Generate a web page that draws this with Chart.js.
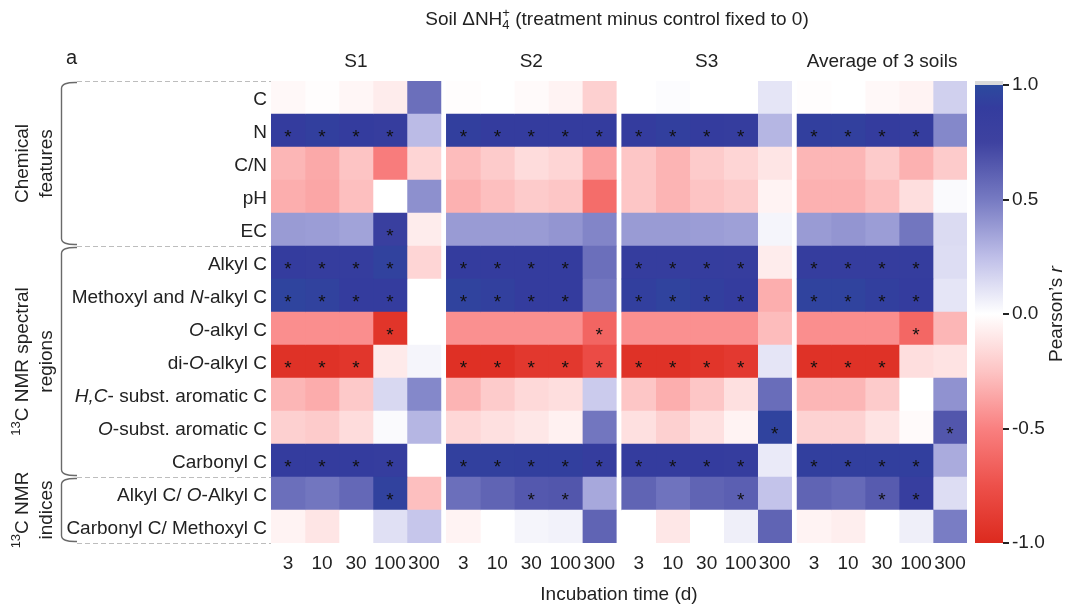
<!DOCTYPE html>
<html>
<head>
<meta charset="utf-8">
<title>Soil ΔNH4+ correlation heatmap</title>
<script src="https://cdn.jsdelivr.net/npm/chart.js@4.4.0/dist/chart.umd.min.js"></script>
<style>
  html, body { margin: 0; padding: 0; background: #fff; }
  #wrap { position: relative; width: 1065px; height: 609px; }
  #wrap canvas { position: absolute; left: 0; top: 0; }
</style>
</head>
<body>
<div id="wrap">
  <canvas id="heat" width="1065" height="609"></canvas>
  <canvas id="scale" width="1065" height="609"></canvas>
</div>
<script>
(function () {
    'use strict';

    // _x_ = italic, ^x^ = superscript, ~x~ = subscript
    const rowLabels = [
        'C', 'N', 'C/N', 'pH', 'EC',
        'Alkyl C', 'Methoxyl and _N_-alkyl C', '_O_-alkyl C', 'di-_O_-alkyl C',
        '_H,C_- subst. aromatic C', '_O_-subst. aromatic C', 'Carbonyl C',
        'Alkyl C/ _O_-Alkyl C', 'Carbonyl C/ Methoxyl C'
    ];
    const timeLabels = ['3', '10', '30', '100', '300'];
    const panelTitles = ['S1', 'S2', 'S3', 'Average of 3 soils'];

    // Pearson's r, one row per variable, one column per incubation time
    const s1Values = [
        [-0.03, -0.01, -0.04, -0.08, 0.55],
        [0.90, 0.92, 0.90, 0.87, 0.26],
        [-0.30, -0.35, -0.25, -0.52, -0.18],
        [-0.33, -0.36, -0.27, 0.00, 0.42],
        [0.38, 0.37, 0.35, 0.82, -0.08],
        [0.90, 0.88, 0.88, 0.94, -0.18],
        [0.96, 0.94, 0.90, 0.90, 0.00],
        [-0.45, -0.45, -0.45, -0.93, 0.00],
        [-0.95, -0.95, -0.92, -0.09, 0.04],
        [-0.30, -0.34, -0.23, 0.15, 0.45],
        [-0.20, -0.22, -0.15, 0.02, 0.28],
        [0.90, 0.90, 0.90, 0.88, 0.00],
        [0.55, 0.52, 0.58, 0.94, -0.27],
        [-0.05, -0.11, 0.00, 0.12, 0.22]
    ];
    const s2Values = [
        [-0.01, 0.00, -0.02, -0.05, -0.20],
        [0.92, 0.90, 0.90, 0.90, 0.90],
        [-0.28, -0.22, -0.15, -0.18, -0.38],
        [-0.32, -0.27, -0.22, -0.24, -0.60],
        [0.38, 0.38, 0.38, 0.40, 0.46],
        [0.90, 0.90, 0.90, 0.90, 0.55],
        [0.95, 0.93, 0.90, 0.90, 0.52],
        [-0.44, -0.44, -0.44, -0.44, -0.64],
        [-0.96, -0.96, -0.91, -0.91, -0.78],
        [-0.31, -0.22, -0.16, -0.14, 0.20],
        [-0.17, -0.13, -0.10, -0.06, 0.52],
        [0.93, 0.93, 0.92, 0.92, 0.88],
        [0.55, 0.60, 0.65, 0.66, 0.33],
        [-0.05, 0.00, 0.04, 0.05, 0.60]
    ];
    const s3Values = [
        [0.00, 0.01, 0.00, 0.00, 0.10],
        [0.90, 0.92, 0.90, 0.88, 0.28],
        [-0.24, -0.31, -0.22, -0.18, -0.11],
        [-0.24, -0.31, -0.25, -0.22, -0.05],
        [0.38, 0.38, 0.37, 0.36, 0.04],
        [0.88, 0.88, 0.88, 0.87, -0.08],
        [0.92, 0.95, 0.92, 0.90, -0.33],
        [-0.44, -0.44, -0.44, -0.44, -0.28],
        [-0.95, -0.95, -0.93, -0.90, 0.10],
        [-0.24, -0.33, -0.24, -0.13, 0.56],
        [-0.13, -0.20, -0.13, -0.05, 0.95],
        [0.90, 0.90, 0.90, 0.88, 0.08],
        [0.60, 0.53, 0.60, 0.62, 0.23],
        [0.00, -0.10, 0.00, 0.06, 0.60]
    ];
    const avgValues = [
        [-0.01, 0.00, -0.03, -0.05, 0.18],
        [0.92, 0.93, 0.90, 0.88, 0.45],
        [-0.30, -0.30, -0.22, -0.32, -0.22],
        [-0.32, -0.32, -0.27, -0.14, 0.02],
        [0.38, 0.40, 0.37, 0.52, 0.14],
        [0.88, 0.88, 0.88, 0.88, 0.13],
        [0.95, 0.95, 0.92, 0.90, 0.10],
        [-0.45, -0.45, -0.45, -0.63, -0.30],
        [-0.95, -0.95, -0.95, -0.14, -0.12],
        [-0.30, -0.30, -0.22, 0.00, 0.41],
        [-0.19, -0.19, -0.12, -0.02, 0.66],
        [0.92, 0.92, 0.92, 0.92, 0.32],
        [0.60, 0.57, 0.64, 0.85, 0.13],
        [-0.05, -0.07, 0.00, 0.06, 0.49]
    ];

    // significant correlations: column indices per row
    const s1Sig = [[], [0, 1, 2, 3], [], [], [3], [0, 1, 2, 3], [0, 1, 2, 3], [3], [0, 1, 2], [], [], [0, 1, 2, 3], [3], []];
    const s2Sig = [[], [0, 1, 2, 3, 4], [], [], [], [0, 1, 2, 3], [0, 1, 2, 3], [4], [0, 1, 2, 3, 4], [], [], [0, 1, 2, 3, 4], [2, 3], []];
    const s3Sig = [[], [0, 1, 2, 3], [], [], [], [0, 1, 2, 3], [0, 1, 2, 3], [], [0, 1, 2, 3], [], [4], [0, 1, 2, 3], [3], []];
    const avgSig = [[], [0, 1, 2, 3], [], [], [], [0, 1, 2, 3], [0, 1, 2, 3], [3], [0, 1, 2], [], [4], [0, 1, 2, 3], [2, 3], []];

    const rowGroups = [
        { lines: ['Chemical', 'features'], from: 0, to: 4 },
        { lines: ['^13^C NMR spectral', 'regions'], from: 5, to: 11 },
        { lines: ['^13^C NMR', 'indices'], from: 12, to: 13 }
    ];

    const panelValues = [s1Values, s2Values, s3Values, avgValues];
    const panelSig = [s1Sig, s2Sig, s3Sig, avgSig];

    const FONT = '"Liberation Sans", Arial, Helvetica, sans-serif';
    const INK = '#222';
    const FS = 19;
    const PANEL_GAP = 0.16;

    // diverging red - white - blue ramp
    const ramp = [
        [-1.00, [220, 42, 30]],
        [-0.75, [237, 80, 74]],
        [-0.50, [249, 128, 128]],
        [-0.25, [253, 196, 196]],
        [0.00, [255, 255, 255]],
        [0.25, [190, 190, 232]],
        [0.50, [118, 122, 194]],
        [0.75, [62, 66, 160]],
        [0.90, [52, 60, 158]],
        [1.00, [44, 74, 158]]
    ];

    function colorFor(v) {
        for (let i = 1; i < ramp.length; i++) {
            const [v1, c1] = ramp[i];
            if (v <= v1 || i === ramp.length - 1) {
                const [v0, c0] = ramp[i - 1];
                const t = Math.min(1, Math.max(0, (v - v0) / (v1 - v0)));
                const c = c0.map((a, k) => Math.round(a + (c1[k] - a) * t));
                return `rgb(${c[0]},${c[1]},${c[2]})`;
            }
        }
        return '#fff';
    }

    const panelStart = p => p * (timeLabels.length + PANEL_GAP);
    const xMax = panelStart(panelTitles.length) - PANEL_GAP;
    const tickCenters = [];
    panelTitles.forEach((_, p) => timeLabels.forEach((__, j) => tickCenters.push(panelStart(p) + j + 0.5)));

    // ---- rich text helpers (italic / super- / subscript runs) ----
    function parseRich(str) {
        const parts = [];
        let italic = false, sup = false, sub = false, buf = '';
        const flush = () => { if (buf) parts.push({ text: buf, italic, sup, sub }); buf = ''; };
        for (const ch of str) {
            if (ch === '_') { flush(); italic = !italic; }
            else if (ch === '^') { flush(); sup = !sup; }
            else if (ch === '~') { flush(); sub = !sub; }
            else buf += ch;
        }
        flush();
        return parts;
    }

    function richLayout(ctx, str, size) {
        const parts = parseRich(str);
        let cx = 0, lastSub = null;
        parts.forEach(p => {
            const s = (p.sup || p.sub) ? Math.round(size * 0.68) : size;
            p.font = `${p.italic ? 'italic ' : ''}${s}px ${FONT}`;
            ctx.font = p.font;
            p.w = ctx.measureText(p.text).width;
            p.dy = p.sup ? -size * 0.4 : (p.sub ? size * 0.22 : 0);
            if (p.sup && lastSub) {
                // stack a superscript right above the preceding subscript
                p.x = lastSub.x;
                cx = lastSub.x + Math.max(lastSub.w, p.w);
                lastSub = null;
            } else {
                p.x = cx;
                cx += p.w;
                lastSub = p.sub ? p : null;
            }
        });
        return { parts, width: cx };
    }

    function drawRich(ctx, str, x, y, size, align) {
        const { parts, width } = richLayout(ctx, str, size);
        const x0 = align === 'right' ? x - width : align === 'center' ? x - width / 2 : x;
        ctx.textAlign = 'left';
        ctx.textBaseline = 'alphabetic';
        parts.forEach(p => {
            ctx.font = p.font;
            ctx.fillText(p.text, x0 + p.x, y + p.dy);
        });
    }

    // ---- heatmap: one floating bar per cell ----
    const datasets = [];
    panelValues.forEach((vals, p) => {
        timeLabels.forEach((t, j) => {
            const x0 = panelStart(p) + j;
            datasets.push({
                label: `${panelTitles[p]} ${t} d`,
                data: vals.map(() => [x0, x0 + 1]),
                backgroundColor: vals.map(row => colorFor(row[j])),
                borderWidth: 0,
                barPercentage: 1,
                categoryPercentage: 1,
                grouped: false
            });
        });
    });

    const heatDecor = {
        id: 'heatDecor',
        afterDatasetsDraw(chart) {
            const { ctx, scales: { x, y } } = chart;
            ctx.save();
            ctx.fillStyle = '#111';
            ctx.font = `${FS}px ${FONT}`;
            ctx.textAlign = 'center';
            ctx.textBaseline = 'alphabetic';
            panelSig.forEach((sig, p) => sig.forEach((cols, r) => cols.forEach(j => {
                ctx.fillText('*', x.getPixelForValue(panelStart(p) + j + 0.5), y.getPixelForValue(r) + 12);
            })));
            ctx.restore();
        },
        afterDraw(chart) {
            const { ctx, chartArea, scales: { x, y } } = chart;
            const rowH = (chartArea.bottom - chartArea.top) / rowLabels.length;
            const edge = r => chartArea.top + r * rowH;
            ctx.save();
            ctx.fillStyle = INK;

            // row labels
            rowLabels.forEach((lab, r) => {
                drawRich(ctx, lab, chartArea.left - 4, y.getPixelForValue(r) + 7, FS, 'right');
            });

            // dashed separators between row groups
            ctx.strokeStyle = '#bdbdbd';
            ctx.lineWidth = 1.2;
            ctx.setLineDash([5, 3]);
            const cuts = rowGroups.map(g => g.from).concat(rowGroups[rowGroups.length - 1].to + 1);
            cuts.forEach(r => {
                const yy = Math.round(edge(r)) + 0.5;
                ctx.beginPath();
                ctx.moveTo(77, yy);
                ctx.lineTo(chartArea.left, yy);
                ctx.stroke();
            });
            ctx.setLineDash([]);

            // brackets and rotated group names
            ctx.strokeStyle = '#6a6a6a';
            ctx.lineWidth = 1.4;
            rowGroups.forEach(g => {
                const y0 = edge(g.from) + 1.5, y1 = edge(g.to + 1) - 1.5;
                const bx = 61.5, hx = 77;
                ctx.beginPath();
                ctx.moveTo(hx, y0);
                ctx.quadraticCurveTo(bx, y0 - 0.5, bx, y0 + 6);
                ctx.lineTo(bx, y1 - 6);
                ctx.quadraticCurveTo(bx, y1 + 0.5, hx, y1);
                ctx.stroke();

                const cy = (edge(g.from) + edge(g.to + 1)) / 2;
                g.lines.forEach((line, i) => {
                    ctx.save();
                    ctx.translate(28 + 24 * i, cy);
                    ctx.rotate(-Math.PI / 2);
                    drawRich(ctx, line, 0, 0, FS, 'center');
                    ctx.restore();
                });
            });

            // panel headers
            panelTitles.forEach((t, p) => {
                const cx = (x.getPixelForValue(panelStart(p)) + x.getPixelForValue(panelStart(p) + timeLabels.length)) / 2;
                drawRich(ctx, t, cx, 67, FS, 'center');
            });

            // figure title and panel letter
            drawRich(ctx, 'Soil ΔNH~4~^+^ (treatment minus control fixed to 0)', 617, 25, FS, 'center');
            drawRich(ctx, 'a', 66, 64, 20, 'left');
            ctx.restore();
        }
    };

    Chart.defaults.font.family = FONT;

    new Chart(document.getElementById('heat'), {
        type: 'bar',
        data: { labels: rowLabels, datasets },
        options: {
            indexAxis: 'y',
            responsive: false,
            animation: false,
            events: [],
            layout: { padding: { left: 271, right: 98, top: 81, bottom: 0 } },
            plugins: { legend: { display: false }, tooltip: { enabled: false } },
            scales: {
                y: { type: 'category', display: false },
                x: {
                    type: 'linear',
                    min: 0,
                    max: xMax,
                    grid: { display: false, drawTicks: false },
                    border: { display: false },
                    afterBuildTicks: scale => { scale.ticks = tickCenters.map(v => ({ value: v })); },
                    afterFit: scale => { scale.height = 66; },
                    ticks: {
                        autoSkip: false,
                        maxRotation: 0,
                        padding: 9,
                        color: INK,
                        font: { size: FS },
                        callback: (v, i) => timeLabels[i % timeLabels.length]
                    },
                    title: {
                        display: true,
                        text: 'Incubation time (d)',
                        color: INK,
                        font: { size: FS },
                        padding: { top: 0, bottom: 3 }
                    }
                }
            }
        },
        plugins: [heatDecor]
    });

    // ---- colour bar ----
    const scaleDecor = {
        id: 'scaleDecor',
        afterDraw(chart) {
            const { ctx, chartArea } = chart;
            ctx.save();
            ctx.fillStyle = '#dadada';
            ctx.fillRect(chartArea.left, chartArea.top - 4, chartArea.right - chartArea.left, 4);
            ctx.fillStyle = INK;
            ctx.translate(1062, (chartArea.top + chartArea.bottom) / 2);
            ctx.rotate(-Math.PI / 2);
            drawRich(ctx, 'Pearson’s _r_', 0, 0, FS, 'center');
            ctx.restore();
        }
    };

    new Chart(document.getElementById('scale'), {
        type: 'bar',
        data: {
            labels: ['r'],
            datasets: [{
                data: [[-1, 1]],
                barPercentage: 1,
                categoryPercentage: 1,
                borderWidth: 0,
                backgroundColor: c => {
                    const { chart } = c;
                    if (!chart.chartArea) return '#fff';
                    const sy = chart.scales.y;
                    const g = chart.ctx.createLinearGradient(0, sy.getPixelForValue(-1), 0, sy.getPixelForValue(1));
                    ramp.forEach(([v, col]) => g.addColorStop((v + 1) / 2, `rgb(${col.join(',')})`));
                    return g;
                }
            }]
        },
        options: {
            responsive: false,
            animation: false,
            events: [],
            layout: { padding: { left: 975, right: 0, top: 85, bottom: 66 } },
            plugins: { legend: { display: false }, tooltip: { enabled: false } },
            scales: {
                x: { display: false },
                y: {
                    position: 'right',
                    min: -1,
                    max: 1,
                    afterFit: scale => { scale.width = 62; },
                    border: { display: false },
                    grid: { drawOnChartArea: false, drawTicks: true, tickLength: 6, color: INK, lineWidth: 2 },
                    ticks: {
                        stepSize: 0.5,
                        padding: 3,
                        color: INK,
                        font: { size: FS },
                        callback: v => v.toFixed(1)
                    }
                }
            }
        },
        plugins: [scaleDecor]
    });
})();
</script>
</body>
</html>
